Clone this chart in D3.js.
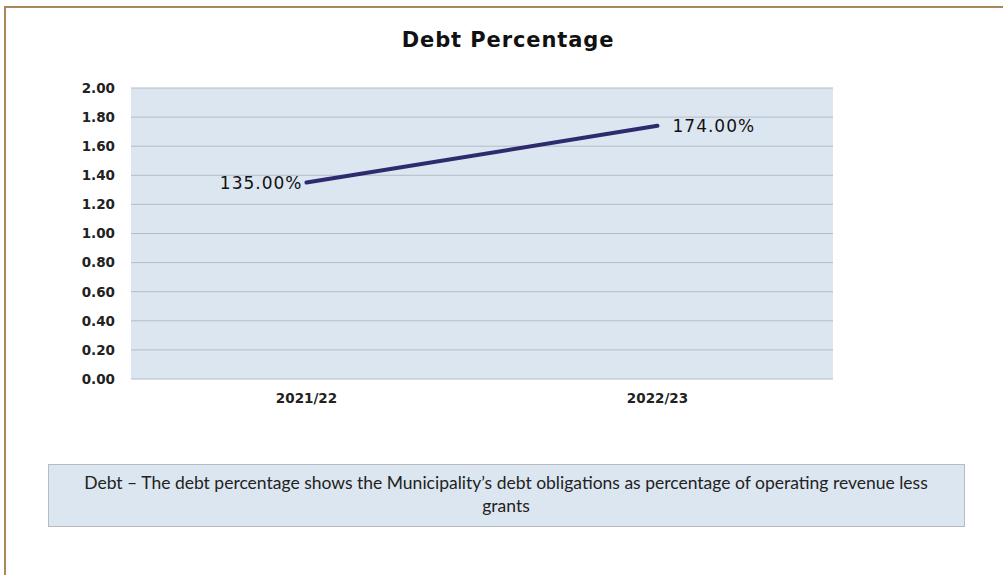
<!DOCTYPE html>
<html>
<head>
<meta charset="utf-8">
<script src="https://cdn.jsdelivr.net/npm/d3@7"></script>
<style>
  body { margin: 0; background: #fff; }
  svg { display: block; }
</style>
</head>
<body>
<div id="chart-area"></div>
<script>
// data
var years = ["2021/22", "2022/23"];
var debtRatio = [1.35, 1.74];
var pointLabels = ["135.00%", "174.00%"];
var yTicks = [0, 0.2, 0.4, 0.6, 0.8, 1.0, 1.2, 1.4, 1.6, 1.8, 2.0];
var noteLines = [
  "Debt \u2013  The debt percentage shows the Municipality\u2019s debt obligations as percentage of operating revenue less",
  "grants"
];

var W = 1003, H = 575;
var margins = { left: 131, right: 170, top: 88, bottom: 196 };
var width = W - margins.left - margins.right;
var height = H - margins.top - margins.bottom;

var svg = d3.select("#chart-area")
  .append("svg")
  .attr("width", W)
  .attr("height", H);

// outer frame (only top and left edges are visible)
svg.append("rect")
  .attr("x", 5).attr("y", 7)
  .attr("width", W + 20).attr("height", H + 20)
  .attr("fill", "#fff")
  .attr("stroke", "#a8875a")
  .attr("stroke-width", 2);

svg.append("text")
  .attr("x", 508).attr("y", 47)
  .attr("text-anchor", "middle")
  .attr("font-family", "'DejaVu Sans', sans-serif")
  .attr("font-weight", "bold")
  .attr("font-size", 21)
  .attr("letter-spacing", 0.9)
  .attr("fill", "#111")
  .text("Debt Percentage");

var g = svg.append("g")
  .attr("transform", "translate(" + margins.left + "," + margins.top + ")");

var x = d3.scaleBand().domain(years).range([0, width]);
var y = d3.scaleLinear().domain([0, 2]).range([height, 0]);

g.append("rect")
  .attr("width", width)
  .attr("height", height)
  .attr("fill", "#dce6f1");

// gridlines
g.append("g")
  .selectAll("line")
  .data(yTicks)
  .enter()
  .append("line")
  .attr("x1", 0).attr("x2", width)
  .attr("y1", function(d) { return y(d); })
  .attr("y2", function(d) { return y(d); })
  .attr("stroke", "#b4bcc6")
  .attr("stroke-width", 1);

// y axis
var yAxisGroup = g.append("g")
  .call(d3.axisLeft(y).tickValues(yTicks).tickFormat(d3.format(".2f")).tickSize(0).tickPadding(16));
yAxisGroup.select(".domain").remove();
yAxisGroup.selectAll("text")
  .attr("font-family", "'DejaVu Sans', sans-serif")
  .attr("font-weight", "bold")
  .attr("font-size", 13.5)
  .attr("fill", "#222");

// x axis
var xAxisGroup = g.append("g")
  .attr("transform", "translate(0," + height + ")")
  .call(d3.axisBottom(x).tickSize(0).tickPadding(14));
xAxisGroup.select(".domain").remove();
xAxisGroup.selectAll("text")
  .attr("font-family", "'DejaVu Sans', sans-serif")
  .attr("font-weight", "bold")
  .attr("font-size", 13.5)
  .attr("fill", "#222");

var cx = function(d, i) { return x(years[i]) + x.bandwidth() / 2; };

g.append("path")
  .datum(debtRatio)
  .attr("fill", "none")
  .attr("stroke", "#2e2a6e")
  .attr("stroke-width", 4)
  .attr("stroke-linecap", "round")
  .attr("d", d3.line()
    .x(cx)
    .y(function(d) { return y(d); }));

// data labels: first to the left, second to the right
g.append("g")
  .selectAll("text")
  .data(debtRatio)
  .enter()
  .append("text")
  .attr("x", function(d, i) { return i === 0 ? cx(d, i) - 4 : cx(d, i) + 15; })
  .attr("y", function(d) { return y(d) + 6; })
  .attr("text-anchor", function(d, i) { return i === 0 ? "end" : "start"; })
  .attr("font-family", "'DejaVu Sans', sans-serif")
  .attr("font-size", 17)
  .attr("letter-spacing", 1)
  .attr("fill", "#111")
  .text(function(d, i) { return pointLabels[i]; });

// note box
var note = svg.append("g");
note.append("rect")
  .attr("x", 48.5).attr("y", 464.5)
  .attr("width", 916).attr("height", 62)
  .attr("fill", "#dce6f1")
  .attr("stroke", "#b8bcc2")
  .attr("stroke-width", 1);

note.selectAll("text")
  .data(noteLines)
  .enter()
  .append("text")
  .attr("x", 506)
  .attr("y", function(d, i) { return 489 + i * 23; })
  .attr("text-anchor", "middle")
  .attr("font-family", "Lato, 'Open Sans', sans-serif")
  .attr("font-size", 17.5)
  .attr("fill", "#222")
  .text(function(d) { return d; });
</script>
</body>
</html>
